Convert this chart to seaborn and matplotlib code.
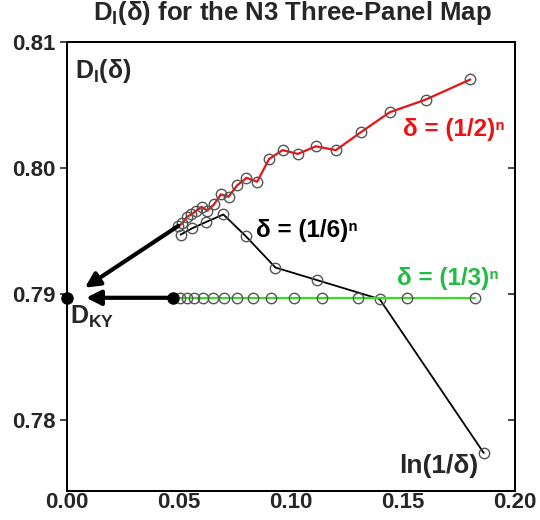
import matplotlib
matplotlib.use("Agg")
import matplotlib.pyplot as plt
import seaborn as sns

sns.set_style("white")
plt.rcParams["font.family"] = ["Liberation Sans", "DejaVu Sans"]
plt.rcParams["mathtext.fontset"] = "custom"
plt.rcParams["mathtext.rm"] = "Liberation Sans:bold"
plt.rcParams["mathtext.bf"] = "Liberation Sans:bold"

# ---------------------------------------------------------
# data (x = 1/ln(1/delta))
# ---------------------------------------------------------
half_x = [0.0497, 0.0515, 0.0534, 0.0555, 0.0577, 0.0601, 0.0627, 0.0656,
          0.0687, 0.0721, 0.0759, 0.0801, 0.0849, 0.0902, 0.0962, 0.103,
          0.111, 0.120, 0.131, 0.144, 0.160, 0.180]
half_y = [0.7954, 0.7956, 0.7961, 0.7963, 0.7966, 0.7969, 0.7966, 0.7971,
          0.7979, 0.7977, 0.7986, 0.7992, 0.7989, 0.8007, 0.8014, 0.8011,
          0.8017, 0.8014, 0.8028, 0.8044, 0.8054, 0.8070]

sixth_x = [0.0507, 0.0558, 0.0620, 0.0698, 0.0797, 0.0930, 0.1116, 0.1395, 0.186]
sixth_y = [0.7947, 0.7952, 0.7957, 0.7963, 0.7946, 0.7921, 0.7911, 0.7896, 0.7774]

third_x = [0.0506, 0.0535, 0.0569, 0.0607, 0.0650, 0.0700, 0.0759, 0.0828,
           0.0910, 0.1011, 0.1138, 0.130, 0.1517, 0.182]
third_y = [0.7897] * len(third_x)

d_ky = 0.7897
extrap_start = 0.0474          # filled dot where the (1/3)^n curve is extrapolated from
upper_start = (0.0497, 0.7954)
upper_tip = (0.0080, 0.7905)
lower_tip = 0.0085

x_ticks = [0.00, 0.05, 0.10, 0.15, 0.20]
y_ticks = [0.78, 0.79, 0.80, 0.81]

# ---------------------------------------------------------
# plot
# ---------------------------------------------------------
fig = plt.figure(figsize=(5.4, 5.2), dpi=100)
ax = fig.add_axes([0.124, 0.056, 0.830, 0.864])

circ = dict(marker="o", markersize=7.5, markerfacecolor="none",
            markeredgecolor="#555555", markeredgewidth=1.0, estimator=None)

sns.lineplot(x=sixth_x, y=sixth_y, color="black", linewidth=1.3, ax=ax, **circ)
sns.lineplot(x=third_x, y=third_y, color="#33dd22", linewidth=1.6, ax=ax, **circ)
sns.lineplot(x=half_x, y=half_y, color="#ee1111", linewidth=1.6, ax=ax, **circ)

# extrapolation arrows to D_KY
arrow = dict(arrowstyle="-|>", color="black", lw=3, mutation_scale=22,
             shrinkA=0, shrinkB=0)
ax.annotate("", xy=upper_tip, xytext=upper_start, arrowprops=arrow)
ax.annotate("", xy=(lower_tip, d_ky), xytext=(extrap_start, d_ky), arrowprops=arrow)
ax.plot([extrap_start], [d_ky], "o", color="black", markersize=8, zorder=5)
ax.plot([0.0], [d_ky], "o", color="black", markersize=8, clip_on=False, zorder=6)

# labels
ax.text(0.0036, 0.8077, r"$\mathbf{D}_{\mathbf{I}}$(δ)", fontsize=18,
        fontweight="bold", va="center", ha="left")
ax.text(0.0012, 0.7882, r"$\mathbf{D}_{\mathbf{KY}}$", fontsize=18,
        fontweight="bold", va="center", ha="left")
ax.text(0.0844, 0.7950, "δ = (1/6)ⁿ", fontsize=17.5, fontweight="bold",
        va="center", ha="left", color="black")
ax.text(0.150, 0.8030, "δ = (1/2)ⁿ", fontsize=17.5, fontweight="bold",
        va="center", ha="left", color="#ee1111")
ax.text(0.1472, 0.7912, "δ = (1/3)ⁿ", fontsize=17.5, fontweight="bold",
        va="center", ha="left", color="#22bb44")
ax.text(0.1835, 0.7764, "ln(1/δ)", fontsize=19, fontweight="bold",
        va="center", ha="right")

ax.set_xlim(0.0, 0.20)
ax.set_ylim(0.7744, 0.81)
ax.set_xticks(x_ticks)
ax.set_xticklabels([f"{v:.2f}" for v in x_ticks])
ax.set_yticks(y_ticks)
ax.set_yticklabels([f"{v:.2f}" for v in y_ticks])
ax.tick_params(axis="x", direction="in", length=5, width=1.2, pad=1,
               labelsize=16)
ax.tick_params(axis="y", direction="out", length=5, width=1.2, pad=3,
               labelsize=16)
for lab in ax.get_xticklabels() + ax.get_yticklabels():
    lab.set_fontweight("bold")

# right-hand ticks point inwards
ax2 = ax.twinx()
ax2.set_ylim(ax.get_ylim())
ax2.set_yticks(y_ticks[:-1])
ax2.tick_params(axis="y", direction="in", length=5, width=1.2, labelright=False)

for a in (ax, ax2):
    for s in a.spines.values():
        s.set_linewidth(1.4)
        s.set_color("black")

fig.text(0.542, 0.975, r"$\mathbf{D}_{\mathbf{I}}$(δ) for the N3 Three-Panel Map",
         fontsize=18.5, fontweight="bold", ha="center", va="center")

fig.savefig("out.png", dpi=100)
